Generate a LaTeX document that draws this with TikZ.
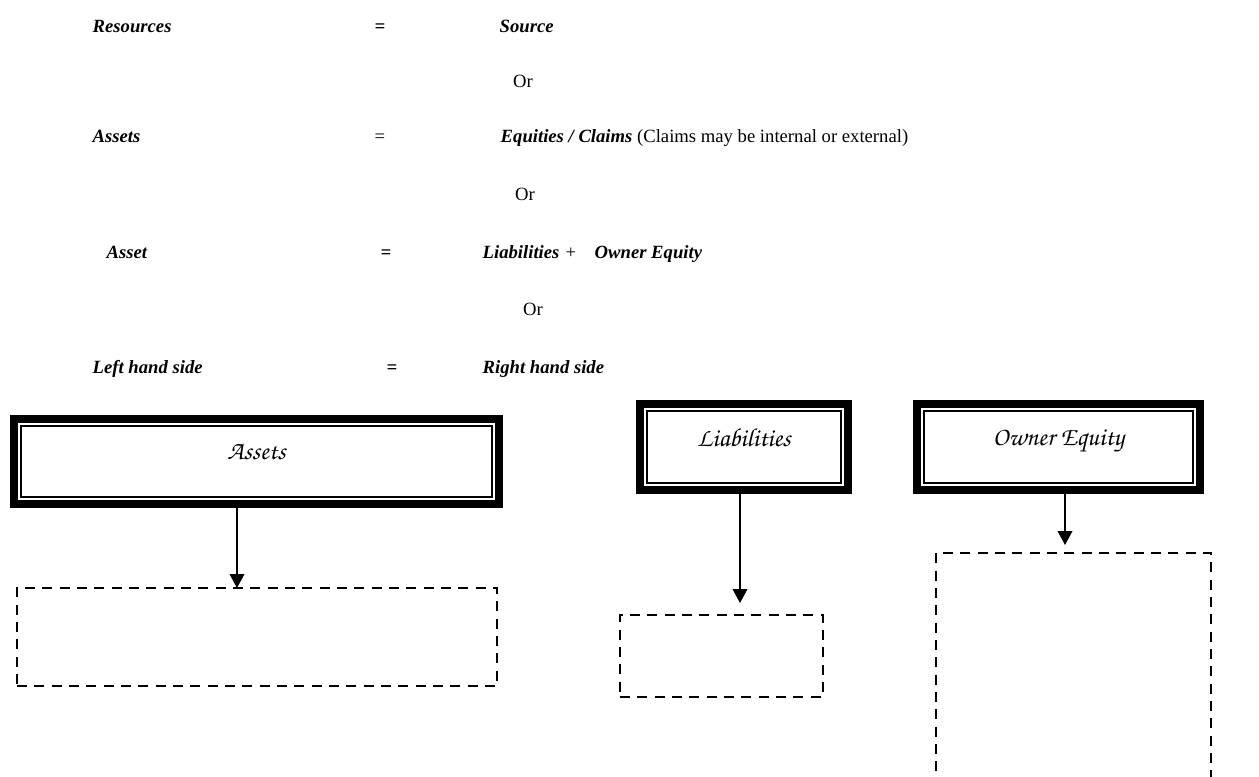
\documentclass[tikz,border=0pt]{standalone}
\usepackage[T1,TU]{fontenc}
\usepackage{fontspec}
\setmainfont{Liberation Serif}
\usetikzlibrary{arrows.meta}
\newcommand\chancery{\fontencoding{T1}\fontfamily{pzc}\fontseries{mb}\fontshape{it}\selectfont}
\begin{document}
\begin{tikzpicture}[x=0.75pt,y=-0.75pt,font=\fontsize{14}{16}\selectfont]
		\tikzstyle{eqn}=[font=\fontsize{14}{16}\selectfont\bfseries\itshape]
		\tikzstyle{hdr}=[draw=black,line width=6pt,outer sep=0pt,text depth=15pt,font=\chancery\fontsize{19.5}{22}\selectfont]
		\tikzstyle{blank}=[draw=black,dash pattern=on 7.5pt off 5.5pt,line width=1.8pt,outer sep=0pt]
		\tikzstyle{link}=[-{Triangle[width=11pt,length=10.5pt]},line width=1.2pt]
		\useasboundingbox (0,0) rectangle (1259,776);

		\node[eqn,anchor=base west] (res) at (88,32)  {Resources};
		\node[eqn,anchor=base] (eq1) at (380,32)  {=};
		\node[eqn,anchor=base west] (src) at (495,32) {Source};
		\node[anchor=base] (or1) at (523,87)  {Or};
		\node[eqn,anchor=base west] (ast) at (88,142) {Assets};
		\node[anchor=base] (eq2) at (380,142) {=};
		\node[anchor=base west] (eqt) at (496,142) {\textbf{\textit{Equities / Claims}} (Claims may be internal or external)};
		\node[anchor=base] (or2) at (525,200) {Or};
		\node[eqn,anchor=base west] (ast2) at (102,258) {Asset};
		\node[eqn,anchor=base] (eq3) at (386,258) {=};
		\node[eqn,anchor=base west] (liab) at (478,258) {Liabilities};
		\node[anchor=base] (plus) at (571,258) {+};
		\node[eqn,anchor=base west] (own) at (590,258) {Owner Equity};
		\node[anchor=base] (or3) at (533,315) {Or};
		\node[eqn,anchor=base west] (lhs) at (88,373) {Left hand side};
		\node[eqn,anchor=base] (eq4) at (392,373) {=};
		\node[eqn,anchor=base west] (rhs) at (478,373) {Right hand side};

		% header boxes
		\node[hdr,minimum width=363.75pt,minimum height=63.75pt] (hAssets) at (256.5,461.5) {Assets};
		\node[hdr,minimum width=156pt,minimum height=64.5pt] (hLiab) at (744,447) {Liabilities};
		\node[hdr,minimum width=212.25pt,minimum height=64.5pt] (hOwner) at (1058.5,447) {Owner Equity};
		\foreach \b in {hAssets,hLiab,hOwner}
			\draw[line width=1.2pt] ([shift={(7,7)}]\b.north west) rectangle ([shift={(-7,-7)}]\b.south east);

		% empty boxes
		\node[blank,minimum width=360pt,minimum height=73.5pt] (bAssets) at (257,637) {};
		\node[blank,minimum width=152.25pt,minimum height=61.5pt] (bLiab) at (721.5,656) {};
		\node[blank,minimum width=206.25pt,minimum height=185.25pt] (bOwner) at (1073.5,676.5) {};

		\coordinate (aAssets) at (237,0);
		\coordinate (aLiab) at (740,0);
		\coordinate (aOwner) at (1065,0);

		\path[link]
		(hAssets.south -| aAssets) edge (bAssets.north -| aAssets)
		(hLiab.south -| aLiab) edge[shorten >=9pt] (bLiab.north -| aLiab)
		(hOwner.south -| aOwner) edge[shorten >=6pt] (bOwner.north -| aOwner)
		;
\end{tikzpicture}
\end{document}
